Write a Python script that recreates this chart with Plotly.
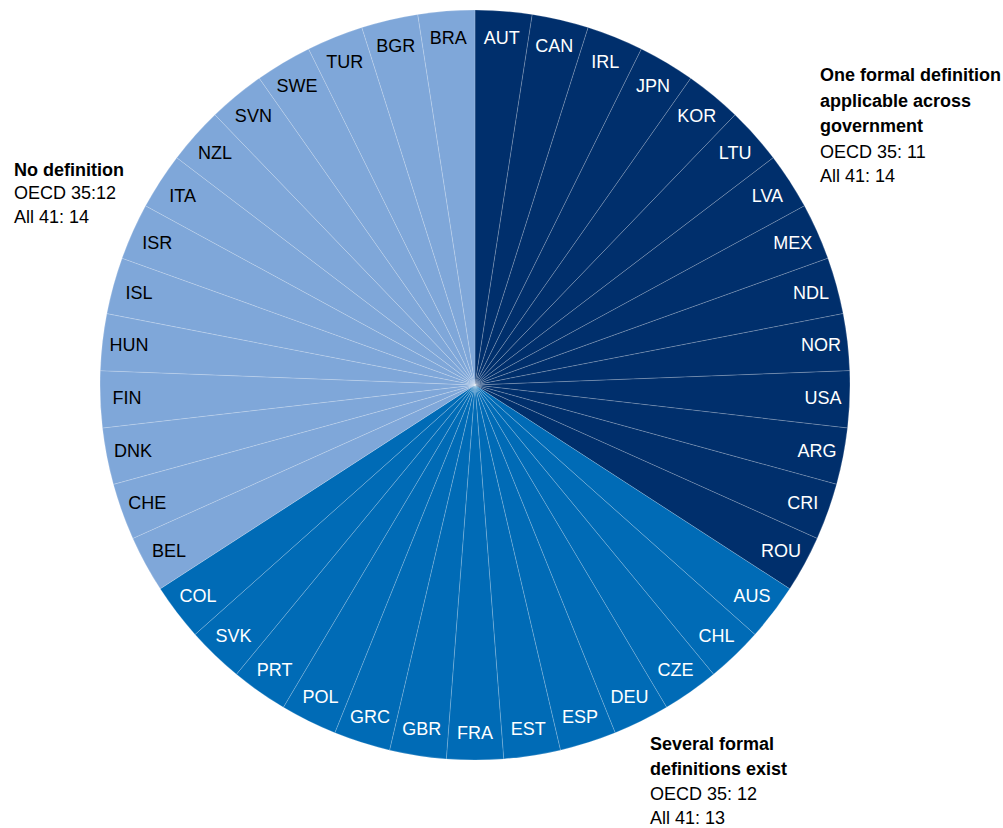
import plotly.graph_objects as go

one_def = ["AUT", "CAN", "IRL", "JPN", "KOR", "LTU", "LVA", "MEX", "NDL", "NOR", "USA", "ARG", "CRI", "ROU"]
several = ["AUS", "CHL", "CZE", "DEU", "ESP", "EST", "FRA", "GBR", "GRC", "POL", "PRT", "SVK", "COL"]
no_def = ["BEL", "CHE", "DNK", "FIN", "HUN", "ISL", "ISR", "ITA", "NZL", "SVN", "SWE", "TUR", "BGR", "BRA"]

groups = [
    (one_def, "#002F6C", "white"),
    (several, "#006BB6", "white"),
    (no_def, "#7FA7D9", "black"),
]

labels, values, colors, tcolors = [], [], [], []
for names, col, tcol in groups:
    for n in names:
        labels.append(n)
        values.append(1)
        colors.append(col)
        tcolors.append(tcol)

W, H = 1003, 828
cx, cy, r = 475, 385, 375

FONT = "Liberation Sans, Arial, sans-serif"

fig = go.Figure(go.Pie(
    labels=labels,
    values=values,
    sort=False,
    direction="clockwise",
    rotation=0,
    text=labels,
    textinfo="text",
    textposition="inside",
    insidetextorientation="horizontal",
    textfont=dict(family=FONT, size=18, color=tcolors),
    marker=dict(colors=colors, line=dict(color="rgba(255,255,255,0.3)", width=0.6)),
    domain=dict(x=[(cx - r) / W, (cx + r) / W], y=[(H - cy - r) / H, (H - cy + r) / H]),
    hoverinfo="label",
    showlegend=False,
))

notes = [
    (818, [("<b>One formal definition</b>", 75), ("<b>applicable across</b>", 101), ("<b>government</b>", 126),
           ("OECD 35: 11", 152), ("All 41: 14", 176)]),
    (12, [("<b>No definition</b>", 170), ("OECD 35:12", 193), ("All 41: 14", 217)]),
    (648, [("<b>Several formal</b>", 744), ("<b>definitions exist</b>", 769), ("OECD 35: 12", 794), ("All 41: 13", 818)]),
]
for x, lines in notes:
    for txt, y in lines:
        fig.add_annotation(x=x / W, y=1 - y / H, xref="paper", yref="paper", text=txt,
                           showarrow=False, xanchor="left", yanchor="middle",
                           font=dict(family=FONT, size=18, color="black"))

fig.update_layout(width=W, height=H, margin=dict(l=0, r=0, t=0, b=0),
                  paper_bgcolor="white", plot_bgcolor="white")
fig.write_html("out.html", config={"displayModeBar": False},
               post_script="document.body.style.margin='0';document.body.style.overflow='hidden';")
